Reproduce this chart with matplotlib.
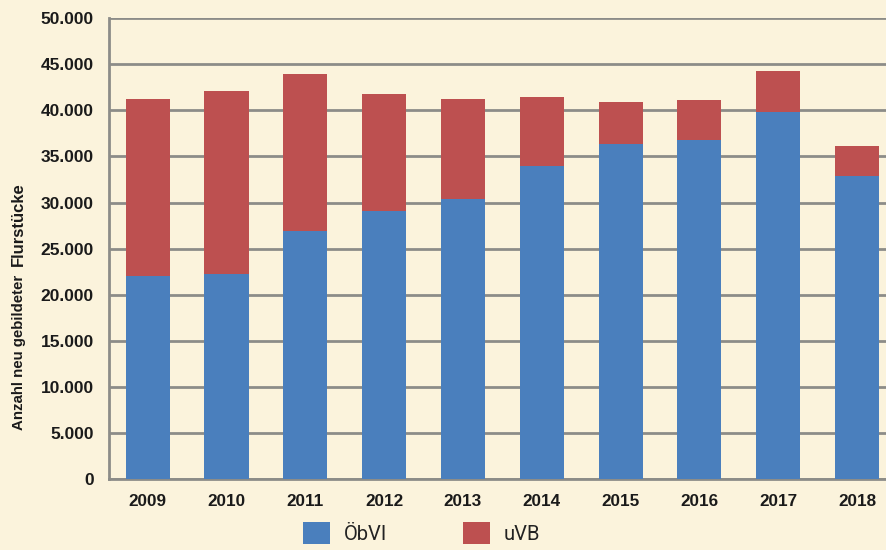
import matplotlib
matplotlib.use("Agg")
import matplotlib.pyplot as plt
import numpy as np

years = ["2009", "2010", "2011", "2012", "2013", "2014", "2015", "2016", "2017", "2018"]
obvi = [22000, 22200, 26900, 29050, 30350, 33950, 36300, 36750, 39800, 32850]
totals = [41200, 42150, 43900, 41750, 41200, 41400, 40900, 41100, 44250, 36100]
uvb = [t - o for t, o in zip(totals, obvi)]
yticks = [0, 5000, 10000, 15000, 20000, 25000, 30000, 35000, 40000, 45000, 50000]
ytick_labels = ["0", "5.000", "10.000", "15.000", "20.000", "25.000", "30.000", "35.000", "40.000", "45.000", "50.000"]

bg = "#fbf3dc"
blue = "#4a7fbd"
red = "#bd5050"
grid = "#8c8c88"

plt.rcParams['font.family'] = ['Liberation Sans', 'DejaVu Sans']

fig = plt.figure(figsize=(8.87, 5.5), dpi=100, facecolor=bg)
ax = fig.add_axes([0.1229, 0.129, 0.8771, 0.838])
ax.set_facecolor(bg)

x = np.arange(len(years))
b1 = ax.bar(x, obvi, width=0.56, color=blue, zorder=3, label="ÖbVI")
b2 = ax.bar(x, uvb, bottom=obvi, width=0.56, color=red, zorder=3, label="uVB")

ax.set_xlim(-0.49, 9.38)
ax.set_ylim(0, 50000)
ax.set_yticks(yticks)
ax.set_yticklabels(ytick_labels, fontsize=12.5, fontweight='bold', color="#1a1a1a")
ax.set_xticks(x)
ax.set_xticklabels(years, fontsize=12.3, fontweight='bold', color="#1a1a1a")
ax.tick_params(axis='y', length=0, pad=11)
ax.tick_params(axis='x', length=0, pad=10.5)

ax.yaxis.grid(True, color=grid, linewidth=2, zorder=1)
for s in ["top", "right"]:
    ax.spines[s].set_visible(False)
for s in ["left", "bottom"]:
    ax.spines[s].set_color(grid)
    ax.spines[s].set_linewidth(2)

fig.text(19 / 887, (550 - 352) / 550, "Anzahl neu gebildeter", rotation=90,
         fontsize=10.8, fontweight='bold', ha='center', va='center', color="#1a1a1a")
fig.text(18 / 887, (550 - 224) / 550, "Flurstücke", rotation=90,
         fontsize=12, fontweight='bold', ha='center', va='center', color="#1a1a1a")

leg = fig.legend(handles=[b1, b2], labels=["ÖbVI", "uVB"], loc='center',
                 bbox_to_anchor=(0.4755, (550 - 533) / 550), ncol=2, frameon=False,
                 fontsize=14.5, handlelength=1.34, handleheight=1.34,
                 columnspacing=3.75, handletextpad=0.7, borderpad=0)
for t in leg.get_texts():
    t.set_color("#222222")
    t.set_fontfamily(['Roboto', 'DejaVu Sans'])

fig.savefig("out.png", dpi=100, facecolor=bg)
